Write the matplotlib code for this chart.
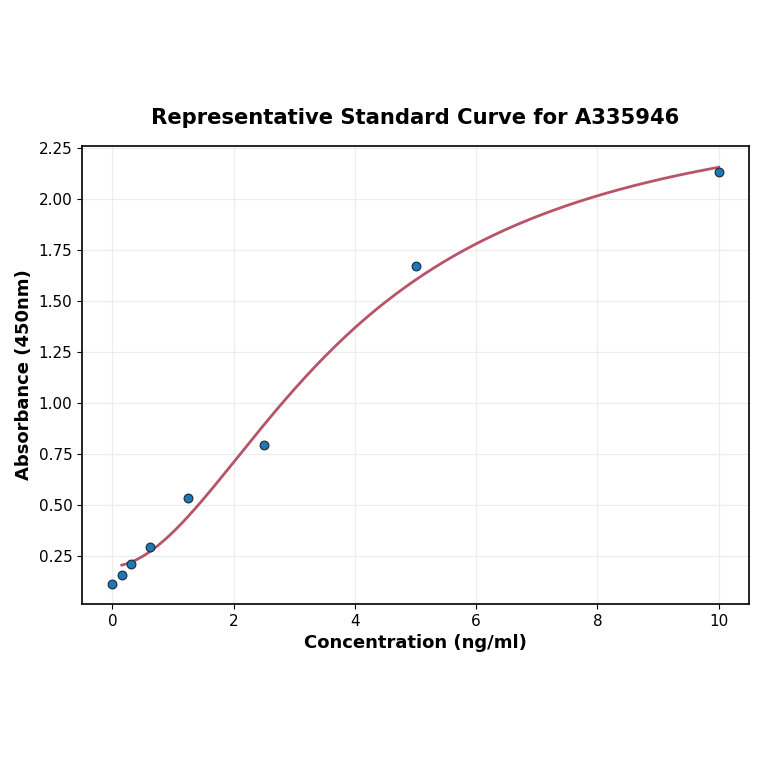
import numpy as np
import matplotlib
matplotlib.use('Agg')
import matplotlib.pyplot as plt

# Standard concentrations (ng/ml) and measured absorbance at 450nm.
conc = [0.0, 0.156, 0.3125, 0.625, 1.25, 2.5, 5.0, 10.0]
absorb = [0.114, 0.158, 0.211, 0.294, 0.535, 0.796, 1.673, 2.134]

# Four-parameter logistic fit (bottom, slope, midpoint, top).
fit_bottom = 0.20
fit_slope = 1.86
fit_mid = 3.93
fit_top = 2.50


def four_pl(x):
    return fit_top + (fit_bottom - fit_top) / (1.0 + (x / fit_mid) ** fit_slope)


fig = plt.figure(figsize=(7.64, 7.64), dpi=100)
ax = fig.add_axes([82 / 764, 160 / 764, 667 / 764, 458 / 764])

xs = np.linspace(conc[1], conc[-1], 300)
ax.plot(xs, four_pl(xs), color='#b85468', linewidth=2, zorder=2)
ax.scatter(conc, absorb, s=40, color='#1f77b4', edgecolors='#1a2a3a',
           linewidths=0.8, zorder=3)

ax.set_xlim(-0.5, 10.5)
ax.set_ylim(0.015, 2.26)
ax.set_yticks([0.25, 0.5, 0.75, 1.0, 1.25, 1.5, 1.75, 2.0, 2.25])
ax.set_xticks([0, 2, 4, 6, 8, 10])
ax.grid(True, color='#ececec', linewidth=0.8)
ax.set_axisbelow(True)
ax.tick_params(labelsize=11)
for spine in ax.spines.values():
    spine.set_linewidth(1.2)

ax.set_title('Representative Standard Curve for A335946', fontsize=15.2,
             fontweight='bold', pad=16)
ax.set_xlabel('Concentration (ng/ml)', fontsize=13, fontweight='bold')
ax.set_ylabel('Absorbance (450nm)', fontsize=13, fontweight='bold')

fig.savefig('out.png', dpi=100)
